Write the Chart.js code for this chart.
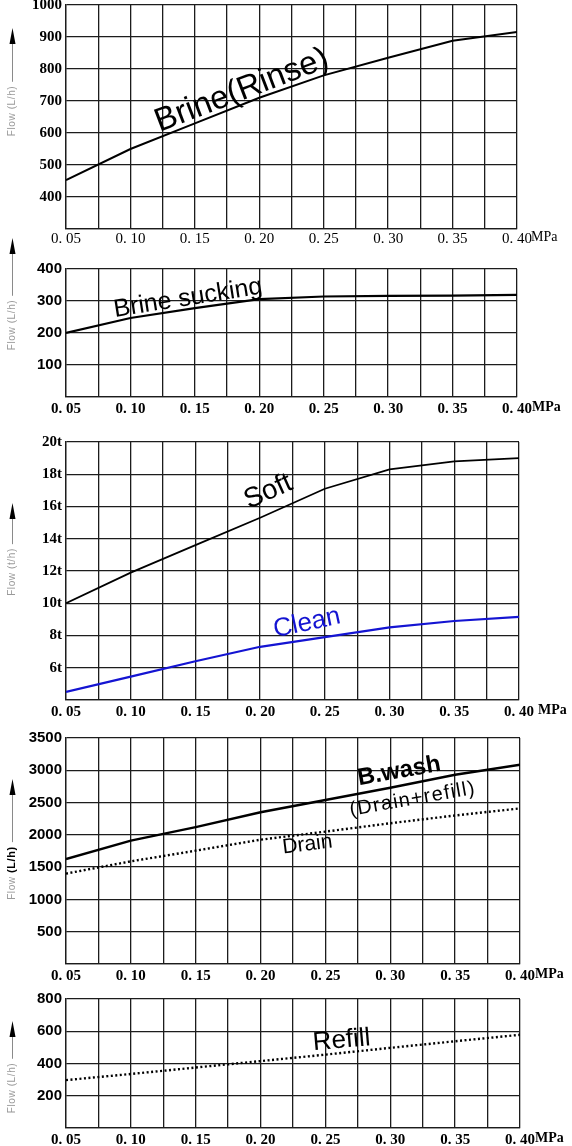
<!DOCTYPE html>
<html>
<head>
<meta charset="utf-8">
<script src="https://cdn.jsdelivr.net/npm/chart.js@4.4.1/dist/chart.umd.min.js"></script>
<style>
  html, body { margin: 0; padding: 0; background: #fff; }
  body { position: relative; width: 572px; height: 1146px; overflow: hidden; }
  canvas { position: absolute; left: 0; }
</style>
</head>
<body>
<canvas id="c1"></canvas>
<canvas id="c2"></canvas>
<canvas id="c3"></canvas>
<canvas id="c4"></canvas>
<canvas id="c5"></canvas>
<script>
// pressure (MPa) where the curves were read
const pressure = [0.05, 0.10, 0.15, 0.20, 0.25, 0.30, 0.35, 0.40];

// flow values
const brineRinse   = [453, 550, 630, 710, 780, 835, 888, 916];     // L/h
const brineSucking = [200, 247, 278, 306, 314, 316, 317, 319];     // L/h
const softFlow     = [10, 11.9, 13.6, 15.3, 17.1, 18.3, 18.8, 19.0]; // t/h
const cleanFlow    = [4.5, 5.45, 6.4, 7.3, 7.9, 8.5, 8.9, 9.15];   // t/h
const backwash     = [1625, 1910, 2120, 2350, 2540, 2730, 2930, 3085]; // L/h
const drainFlow    = [1400, 1590, 1755, 1925, 2050, 2180, 2300, 2410]; // L/h
const refillFlow   = [297, 335, 375, 415, 455, 497, 538, 578];     // L/h

// grid lines and tick labels
const xGrid = [0.05, 0.075, 0.10, 0.125, 0.15, 0.175, 0.20, 0.225, 0.25, 0.275, 0.30, 0.325, 0.35, 0.375, 0.40];
const xLabels = ['0. 05', '0. 10', '0. 15', '0. 20', '0. 25', '0. 30', '0. 35', '0. 40'];

const rinseTicks  = [300, 400, 500, 600, 700, 800, 900, 1000];
const rinseLabels = ['', '400', '500', '600', '700', '800', '900', '1000'];
const suckTicks   = [0, 100, 200, 300, 400];
const suckLabels  = ['', '100', '200', '300', '400'];
const softTicks   = [4, 6, 8, 10, 12, 14, 16, 18, 20];
const softLabels  = ['', '6t', '8t', '10t', '12t', '14t', '16t', '18t', '20t'];
const washTicks   = [0, 500, 1000, 1500, 2000, 2500, 3000, 3500];
const washLabels  = ['', '500', '1000', '1500', '2000', '2500', '3000', '3500'];
const refillTicks  = [0, 200, 400, 600, 800];
const refillLabels = ['', '200', '400', '600', '800'];

const SANS = '"Liberation Sans", Arial, sans-serif';
const SERIF = '"Liberation Serif", "DejaVu Serif", serif';
const GRID = '#1c1c1c';

const panels = [
  {
    id: 'c1', top: 4, bottom: 229, right: 517, padTop: 12, xPad: 1,
    yTicks: rinseTicks, yLabels: rinseLabels,
    yFont: { family: SERIF, size: 15, weight: 'bold' },
    xFont: { family: SERIF, size: 15, weight: 'normal' },
    unitFont: '14px ' + SERIF, unitGap: 14,
    unit: '(L/h)', unitBold: false, titleMid: 106, arrowTip: 23,
    series: [{ values: brineRinse, color: '#000', width: 2 }],
    notes: [{ text: 'Brine(Rinse)', x: 0.189, y: 706, angle: -21, font: '33px ' + SANS, color: '#000' }]
  },
  {
    id: 'c2', top: 269, bottom: 397, right: 517, padTop: 36, xPad: 3,
    yTicks: suckTicks, yLabels: suckLabels,
    yFont: { family: SANS, size: 15, weight: 'bold' },
    xFont: { family: SERIF, size: 15, weight: 'bold' },
    unitFont: 'bold 14px ' + SERIF, unitGap: 15,
    unit: '(L/h)', unitBold: false, titleMid: 56, arrowTip: -31,
    series: [{ values: brineSucking, color: '#000', width: 2.2 }],
    notes: [{ text: 'Brine sucking', x: 0.1455, y: 287, angle: -9, font: '25px ' + SANS, color: '#000' }]
  },
  {
    id: 'c3', top: 441, bottom: 700, right: 519, padTop: 12, xPad: 3,
    yTicks: softTicks, yLabels: softLabels,
    yFont: { family: SERIF, size: 15, weight: 'bold' },
    xFont: { family: SERIF, size: 15, weight: 'bold' },
    unitFont: 'bold 14px ' + SERIF, unitGap: 19,
    unit: '(t/h)', unitBold: false, titleMid: 130, arrowTip: 61,
    series: [
      { values: softFlow, color: '#000', width: 1.8 },
      { values: cleanFlow, color: '#1414d2', width: 2.2 }
    ],
    notes: [
      { text: 'Soft', x: 0.2087, y: 16.48, angle: -24, font: '28px ' + SANS, color: '#000' },
      { text: 'Clean', x: 0.2373, y: 8.33, angle: -12, font: '26px ' + SANS, color: '#1414d2' }
    ]
  },
  {
    id: 'c4', top: 737, bottom: 964, right: 520, padTop: 12, xPad: 3,
    yTicks: washTicks, yLabels: washLabels,
    yFont: { family: SANS, size: 15, weight: 'bold' },
    xFont: { family: SERIF, size: 15, weight: 'bold' },
    unitFont: 'bold 14px ' + SERIF, unitGap: 15,
    unit: '(L/h)', unitBold: true, titleMid: 135, arrowTip: 41,
    series: [
      { values: backwash, color: '#000', width: 2.4 },
      { values: drainFlow, color: '#000', width: 2.4, dash: [2, 2.5] }
    ],
    notes: [
      { text: 'B.wash', x: 0.3077, y: 2883, angle: -10, font: 'bold 24px ' + SANS, color: '#000' },
      { text: '(Drain+refill)', x: 0.318, y: 2467, angle: -10, font: '20px ' + SANS, color: '#000', spacing: '1.3px' },
      { text: 'Drain', x: 0.2367, y: 1758, angle: -7, font: '21px ' + SANS, color: '#000' }
    ]
  },
  {
    id: 'c5', top: 998, bottom: 1128, right: 520, padTop: 12, xPad: 3,
    yTicks: refillTicks, yLabels: refillLabels,
    yFont: { family: SANS, size: 15, weight: 'bold' },
    xFont: { family: SERIF, size: 15, weight: 'bold' },
    unitFont: 'bold 14px ' + SERIF, unitGap: 15,
    unit: '(L/h)', unitBold: false, titleMid: 89, arrowTip: 22,
    series: [{ values: refillFlow, color: '#000', width: 2.4, dash: [2, 2.5] }],
    notes: [{ text: 'Refill', x: 0.263, y: 498, angle: -5, font: '26px ' + SANS, color: '#000' }]
  }
];

const PLOT_LEFT = 66;
const X_AXIS_H = 26;

function decorations(p) {
  return {
    id: 'decor_' + p.id,
    afterDraw(chart) {
      const ctx = chart.ctx;
      const area = chart.chartArea;
      const xs = chart.scales.x;
      const ys = chart.scales.y;
      ctx.save();

      // MPa after the last tick label
      ctx.font = p.unitFont;
      ctx.fillStyle = '#000';
      ctx.textAlign = 'left';
      ctx.textBaseline = 'middle';
      ctx.fillText('MPa', area.right + p.unitGap, area.bottom + p.xPad + 7);

      // vertical axis title with arrow
      const tx = 12;
      const mid = area.top + p.titleMid;
      ctx.save();
      ctx.translate(tx, mid);
      ctx.rotate(-Math.PI / 2);
      ctx.textBaseline = 'middle';
      ctx.letterSpacing = '0.6px';
      ctx.font = '10px ' + SANS;
      const w1 = ctx.measureText('Flow ').width;
      ctx.font = (p.unitBold ? 'bold 11px ' : '10px ') + SANS;
      const w2 = ctx.measureText(p.unit).width;
      const total = w1 + w2;
      ctx.font = '10px ' + SANS;
      ctx.fillStyle = '#9a9a9a';
      ctx.fillText('Flow ', -total / 2, 0);
      ctx.font = (p.unitBold ? 'bold 11px ' : '10px ') + SANS;
      ctx.fillStyle = p.unitBold ? '#000' : '#9a9a9a';
      ctx.fillText(p.unit, -total / 2 + w1, 0);
      ctx.restore();

      const textTop = mid - total / 2 - 4;
      const tip = area.top + p.arrowTip;
      ctx.strokeStyle = '#8a8a8a';
      ctx.lineWidth = 1;
      ctx.beginPath();
      ctx.moveTo(tx + 0.5, textTop);
      ctx.lineTo(tx + 0.5, tip + 14);
      ctx.stroke();
      ctx.fillStyle = '#000';
      ctx.beginPath();
      ctx.moveTo(tx + 0.5, tip);
      ctx.lineTo(tx + 3.5, tip + 16);
      ctx.lineTo(tx - 2.5, tip + 16);
      ctx.closePath();
      ctx.fill();

      // curve names
      p.notes.forEach(n => {
        ctx.save();
        ctx.translate(xs.getPixelForValue(n.x), ys.getPixelForValue(n.y));
        ctx.rotate(n.angle * Math.PI / 180);
        ctx.font = n.font;
        ctx.letterSpacing = n.spacing || '0px';
        ctx.fillStyle = n.color;
        ctx.textAlign = 'center';
        ctx.textBaseline = 'alphabetic';
        ctx.fillText(n.text, 0, 0);
        ctx.restore();
      });
      ctx.restore();
    }
  };
}

panels.forEach(p => {
  const canvas = document.getElementById(p.id);
  const height = p.padTop + (p.bottom - p.top) + X_AXIS_H;
  canvas.width = 572;
  canvas.height = height;
  canvas.style.top = (p.top - p.padTop) + 'px';

  new Chart(canvas, {
    type: 'line',
    data: {
      datasets: p.series.map(s => ({
        data: pressure.map((x, i) => ({ x: x, y: s.values[i] })),
        borderColor: s.color,
        borderWidth: s.width,
        borderDash: s.dash || [],
        pointRadius: 0,
        tension: 0,
        fill: false
      }))
    },
    options: {
      responsive: false,
      animation: false,
      events: [],
      layout: { padding: { top: p.padTop, right: 572 - p.right, bottom: 0, left: 0 } },
      plugins: { legend: { display: false }, tooltip: { enabled: false } },
      scales: {
        x: {
          type: 'linear',
          min: 0.05,
          max: 0.40,
          afterBuildTicks: axis => { axis.ticks = xGrid.map(v => ({ value: v })); },
          afterFit: axis => { axis.height = X_AXIS_H; },
          grid: { color: GRID, lineWidth: 1.3, drawTicks: false },
          border: { color: GRID, width: 1.3 },
          ticks: {
            autoSkip: false,
            maxRotation: 0,
            padding: p.xPad,
            color: '#000',
            font: p.xFont,
            callback: (v, i) => (i % 2 ? '' : xLabels[i / 2])
          }
        },
        y: {
          min: p.yTicks[0],
          max: p.yTicks[p.yTicks.length - 1],
          afterBuildTicks: axis => { axis.ticks = p.yTicks.map(v => ({ value: v })); },
          afterFit: axis => { axis.width = PLOT_LEFT; },
          grid: { color: GRID, lineWidth: 1.3, drawTicks: false },
          border: { color: GRID, width: 1.3 },
          ticks: {
            padding: 4,
            color: '#000',
            font: p.yFont,
            callback: (v, i) => p.yLabels[i]
          }
        }
      }
    },
    plugins: [decorations(p)]
  });
});
</script>
</body>
</html>
